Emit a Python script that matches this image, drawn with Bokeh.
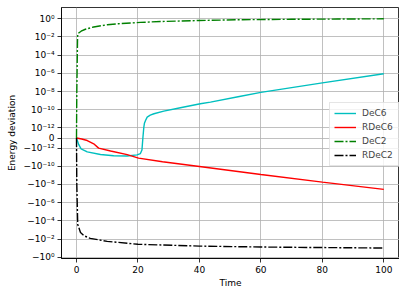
import numpy as np
from bokeh.plotting import figure
from bokeh.models import Range1d, FixedTicker, Legend, LegendItem, ColumnDataSource
from bokeh.embed import file_html
from bokeh.resources import INLINE

# ---- data ----
t_dec6 = [0, 0.7, 1.5, 3.5, 7.8, 12.1, 16.5, 19.7, 20.8, 21.3, 21.6, 21.9, 22.1, 22.5, 23.0, 24, 25.2,
          28.4, 33.8, 40.3, 43.6, 53, 60, 80, 100]
e_dec6 = [0, -0.64e-12, -1.2e-12, -2.6e-12, -5e-12, -6.9e-12, -7.4e-12, -5.6e-12, -4e-12, -1.6e-12,
          0, 1.1e-12, 3.2e-12, 7e-12, 1.55e-11, 2.5e-11, 3.6e-11,
          7.1e-11, 1.66e-10, 4.6e-10, 6.9e-10, 2.8e-9, 8e-9, 8.9e-8, 8.9e-7]

t_rdec6 = [0, 1.7, 3.5, 5.6, 7.2, 11.1, 16.5, 20.2, 28, 40, 60, 80, 100]
e_rdec6 = [0, -0.1e-12, -0.25e-12, -0.57e-12, -1e-12, -2.1e-12, -5.2e-12, -1.26e-11, -3.2e-11,
           -1.07e-10, -7.9e-10, -5.6e-9, -3.5e-8]

t_dec2 = [0, 0.1, 0.35, 0.45, 1.5, 2.9, 5.6, 10, 13.8, 20.8, 27.3, 40, 53, 70, 85, 100]
e_dec2 = [0, 1e-8, 0.01, 0.023, 0.043, 0.071, 0.126, 0.22, 0.29, 0.4, 0.5, 0.65, 0.79, 0.88, 0.94, 1.0]

t_rdec2 = [0, 0.1, 0.4, 0.75, 1.3, 2.5, 4.5, 10, 20, 40, 60, 80, 100]
e_rdec2 = [0, -1e-8, -2.5e-4, -5.4e-4, -1.9e-3, -4.5e-3, -8.5e-3, -0.018, -0.038, -0.060, -0.076, -0.087, -0.098]

y_tick_values = [1, 1e-2, 1e-4, 1e-6, 1e-8, 1e-10, 1e-12, 0,
                 -1e-12, -1e-10, -1e-8, -1e-6, -1e-4, -1e-2, -1]
y_tick_labels = ["10⁰", "10⁻²", "10⁻⁴", "10⁻⁶", "10⁻⁸", "10⁻¹⁰", "10⁻¹²", "0",
                 "−10⁻¹²", "−10⁻¹⁰", "−10⁻⁸", "−10⁻⁶", "−10⁻⁴", "−10⁻²", "−10⁰"]
x_ticks = [0, 20, 40, 60, 80, 100]

# ---- symmetric log scale (linthresh 1e-12, matplotlib-style) ----
LT = 1e-12
C = 1.0 / (1.0 - 0.1)


def symlog(v):
    v = np.asarray(v, dtype=float)
    a = np.abs(v)
    big = np.sign(v) * (C + np.log10(np.maximum(a, 1e-300) / LT))
    return np.where(a > LT, big, v / LT * C)


FONT = "DejaVu Sans"
FS = "9px"

p = figure(width=399, height=293, output_backend="svg", toolbar_location=None,
           x_range=Range1d(-4.88, 105.11), y_range=Range1d(-13.254, 14.354),
           min_border_left=61, min_border_right=0, min_border_top=7, min_border_bottom=35)

ticks_y = [round(float(x), 6) for x in symlog(y_tick_values)]
p.yaxis.ticker = FixedTicker(ticks=ticks_y)
p.ygrid.ticker = FixedTicker(ticks=ticks_y)
p.yaxis.major_label_overrides = {k: lab for k, lab in zip(ticks_y, y_tick_labels)}
p.xaxis.ticker = FixedTicker(ticks=x_ticks)
p.xgrid.ticker = FixedTicker(ticks=x_ticks)

for ax in (p.xaxis[0], p.yaxis[0]):
    ax.major_label_text_font = FONT
    ax.major_label_text_font_size = FS
    ax.major_label_text_color = "black"
    ax.axis_label_text_font = FONT
    ax.axis_label_text_font_size = FS
    ax.axis_label_text_font_style = "normal"
    ax.axis_label_text_color = "black"
    ax.major_tick_in = 0
    ax.major_tick_out = 4
    ax.minor_tick_in = 0
    ax.minor_tick_out = 0
    ax.axis_line_color = "black"
    ax.axis_line_width = 0.8
    ax.major_tick_line_width = 0.8
    ax.major_label_standoff = 3

p.xaxis.axis_label = "Time"
p.xaxis.axis_label_standoff = 2
p.yaxis.axis_label = "Energy deviation"
p.yaxis.axis_label_standoff = 4

p.grid.grid_line_color = "#b0b0b0"
p.grid.grid_line_width = 0.8
p.outline_line_color = "black"
p.outline_line_width = 0.8
p.outline_line_alpha = 1

series = [
    ("DeC6", t_dec6, e_dec6, "#00bfbf", "solid"),
    ("RDeC6", t_rdec6, e_rdec6, "#ff0000", "solid"),
    ("DeC2", t_dec2, e_dec2, "#008000", "9 2 2 2"),
    ("RDeC2", t_rdec2, e_rdec2, "#000000", "9 2 2 2"),
]
items = []
for name, tt, ee, col, dash in series:
    src = ColumnDataSource(dict(t=tt, y=symlog(ee)))
    r = p.line("t", "y", source=src, line_color=col, line_width=1.4, line_dash=dash)
    items.append(LegendItem(label=name, renderers=[r]))

legend = Legend(items=items, location=(268, 92))
legend.label_text_font = FONT
legend.label_text_font_size = FS
legend.label_height = 12
legend.label_width = 32
legend.glyph_height = 12
legend.glyph_width = 22
legend.label_standoff = 6
legend.spacing = 2
legend.padding = 4
legend.margin = 0
legend.border_line_color = "#cccccc"
legend.border_line_width = 1
legend.background_fill_alpha = 0.8
p.add_layout(legend, "center")

open("out.html", "w").write(file_html(p, INLINE))
